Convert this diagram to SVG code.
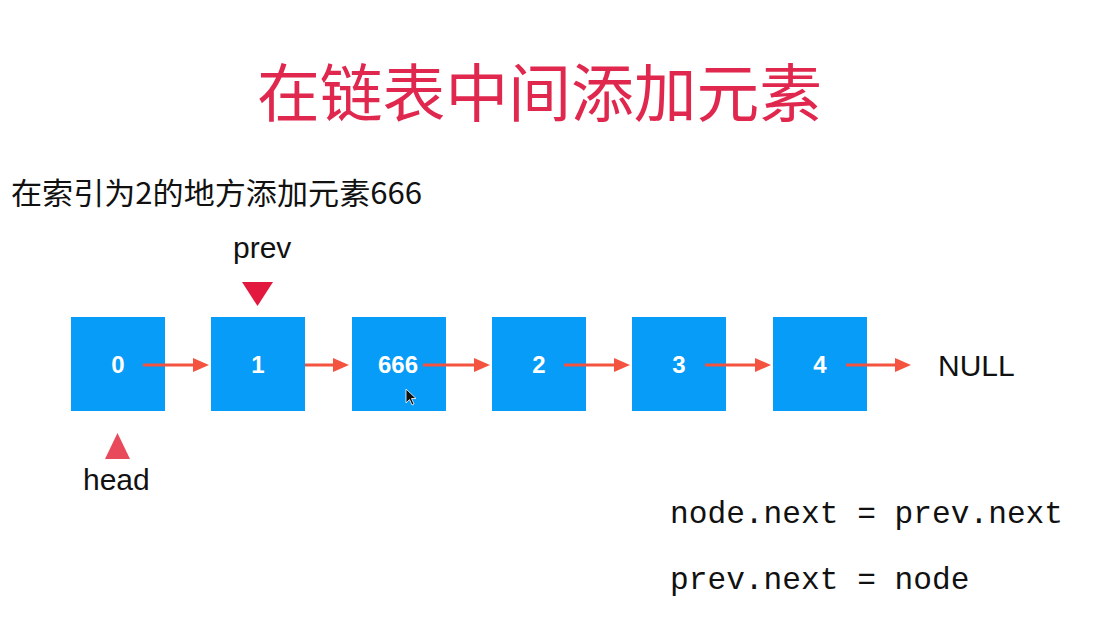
<svg xmlns="http://www.w3.org/2000/svg" width="1100" height="630" viewBox="0 0 1100 630">
  <style>
    .node rect { fill: #069cf8; }
    .node text { font-family: "Liberation Sans", Arial, sans-serif; font-size: 24px; font-weight: bold; fill: #ffffff; text-anchor: middle; }
    .lbl { font-family: "Liberation Sans", Arial, sans-serif; font-size: 30px; fill: #111111; }
    .cjk { font-family: "Noto Sans CJK SC", "Noto Sans", sans-serif; dominant-baseline: central; }
    .code { font-family: "Liberation Mono", "Courier New", monospace; font-size: 31.2px; fill: #111111; }
    .link { stroke: #f4543f; stroke-width: 3; fill: none; marker-end: url(#ah); }
  </style>
  <defs>
    <marker id="ah" viewBox="0 0 16 14" refX="6" refY="7" markerWidth="16" markerHeight="14" markerUnits="userSpaceOnUse" orient="auto">
      <path d="M0,0 L16,7 L0,14 Z" fill="#f4543f"/>
    </marker>
  </defs>
  <rect width="1100" height="630" fill="#ffffff"/>

  <text id="title" class="cjk" x="257" y="88" font-size="62.8" fill="#e0284f">在链表中间添加元素</text>
  <text id="subtitle" class="cjk" x="11" y="191" font-size="30" fill="#111111" textLength="411" lengthAdjust="spacingAndGlyphs">在索引为2的地方添加元素666</text>

  <g id="node-0" class="node"><rect x="71" y="317" width="94" height="94"/><text x="118" y="373">0</text></g>
  <g id="node-1" class="node"><rect x="211" y="317" width="94" height="94"/><text x="258" y="373">1</text></g>
  <g id="node-666" class="node"><rect x="352" y="317" width="94" height="94"/><text x="398" y="373">666</text></g>
  <g id="node-2" class="node"><rect x="492" y="317" width="94" height="94"/><text x="539" y="373">2</text></g>
  <g id="node-3" class="node"><rect x="632" y="317" width="94" height="94"/><text x="679" y="373">3</text></g>
  <g id="node-4" class="node"><rect x="773" y="317" width="94" height="94"/><text x="820" y="373">4</text></g>
  <g id="null"><text class="lbl" x="938" y="376">NULL</text></g>

  <g id="connectors">
    <line class="link" x1="143" y1="365" x2="199" y2="365"/>
    <line class="link" x1="305" y1="365" x2="339" y2="365"/>
    <line class="link" x1="423" y1="365" x2="480" y2="365"/>
    <line class="link" x1="564" y1="365" x2="620" y2="365"/>
    <line class="link" x1="705" y1="365" x2="761" y2="365"/>
    <line class="link" x1="846" y1="365" x2="901" y2="365"/>
  </g>

  <g id="prev-pointer">
    <text class="lbl" x="233" y="258">prev</text>
    <polygon points="242,282 273,282 257.5,306" fill="#e3183e"/>
  </g>
  <g id="head-pointer">
    <polygon points="105,459 130,459 117.5,433" fill="#e84a5c"/>
    <text class="lbl" x="83" y="490">head</text>
  </g>

  <g id="cursor">
    <polygon points="406,389 406,403 409.5,399.5 412,405 414,404 411.5,398.5 416,398.5" fill="#111111" stroke="#ffffff" stroke-width="0.8"/>
  </g>

  <g id="code">
    <text class="code" x="670" y="523">node.next = prev.next</text>
    <text class="code" x="670" y="589">prev.next = node</text>
  </g>
</svg>
